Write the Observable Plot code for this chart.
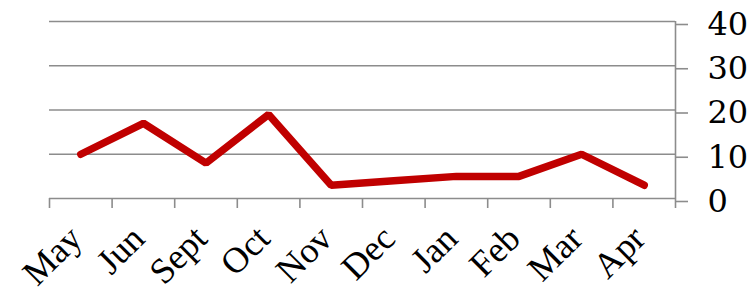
<!DOCTYPE html>
<html><head><meta charset="utf-8">
<script src="https://cdn.jsdelivr.net/npm/d3@7"></script>
<script src="https://cdn.jsdelivr.net/npm/@observablehq/plot@0.6"></script>
<style>
body{margin:0;background:#fff;}
svg{font-family:"Liberation Serif",serif;}
</style>
</head><body>
<div id="chart"></div>
<script>
const months = ["May","Jun","Sept","Oct","Nov","Dec","Jan","Feb","Mar","Apr"];
const values = [10,17,8,19,3,4,5,5,10,3];
const yTicks = [0,10,20,30,40];

const data = months.map((m,i)=>({month:m, idx:i+0.5, value:values[i]}));
const centers = months.map((m,i)=>i+0.5);
const bounds = d3.range(months.length+1);

const chart = Plot.plot({
  width:756, height:294,
  marginLeft:49, marginRight:81, marginTop:21, marginBottom:96,
  style:{fontFamily:"Liberation Serif", fontSize:"30px", color:"#000", background:"#fff", overflow:"visible"},
  x:{domain:[0,months.length]},
  y:{domain:[0,40]},
  marks:[
    Plot.gridY(yTicks,{stroke:"#8c8c8c", strokeOpacity:1, strokeWidth:1.6, x1:0, x2:months.length}),
    Plot.axisY(yTicks,{anchor:"right", tickSize:12, tickPadding:20, stroke:"#8c8c8c", strokeWidth:1.6, fill:"#000", fontSize:32, fontFamily:"DejaVu Serif", label:null, dy:3}),
    Plot.ruleX([months.length],{y1:0,y2:40, stroke:"#8c8c8c", strokeWidth:1.6}),
    Plot.axisX(bounds,{tickSize:10, stroke:"#8c8c8c", strokeWidth:1.6, tickFormat:()=>"", label:null}),
    Plot.axisX(centers,{tickSize:0, tickRotate:-45, tickPadding:34, tickFormat:d=>months[Math.floor(d)], fontSize:36, fontFamily:"Liberation Serif", fill:"#000", label:null, dx:-5}),
    Plot.line(data,{x:"idx", y:"value", stroke:"#c00000", strokeWidth:7.5, strokeLinejoin:"miter", strokeLinecap:"round"})
  ]
});
document.getElementById("chart").appendChild(chart);
</script>
</body></html>
